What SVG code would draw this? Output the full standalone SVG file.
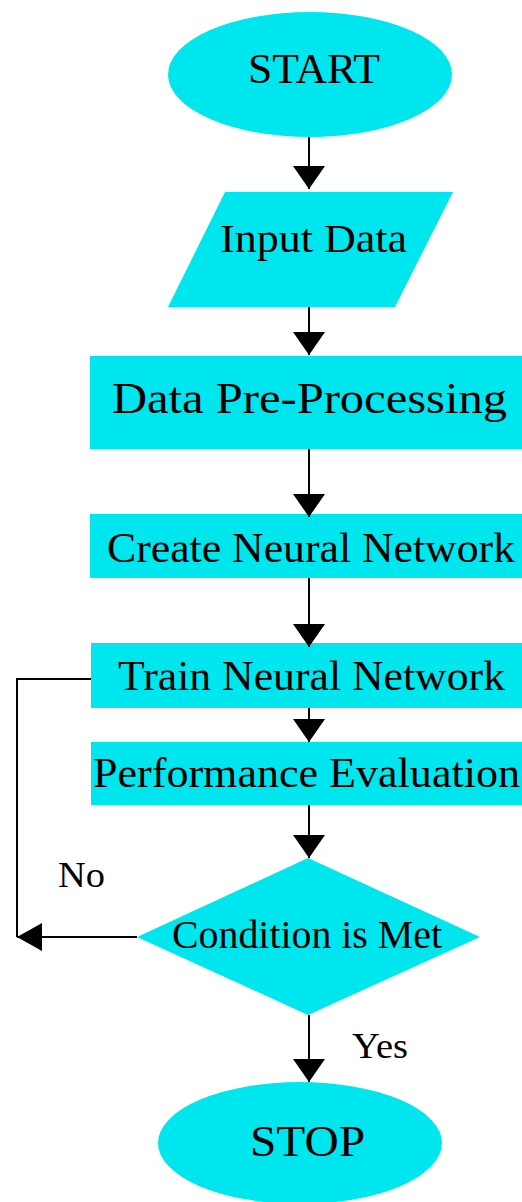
<svg xmlns="http://www.w3.org/2000/svg" width="522" height="1202" viewBox="0 0 522 1202">
<defs>
<style>
.shape{fill:#00E6EE;stroke:none}
.lbl{font-family:"Liberation Serif","Times New Roman",serif;fill:#000}
.edge{stroke:#000;stroke-width:2;fill:none}
</style>
<marker id="ah" viewBox="0 0 23 32" refX="23" refY="16" markerWidth="23" markerHeight="32" markerUnits="userSpaceOnUse" orient="auto">
<path d="M0,0 L23,16 L0,32 Z" fill="#000"/>
</marker>
<marker id="ahs" viewBox="0 0 25 28" refX="25" refY="14" markerWidth="25" markerHeight="28" markerUnits="userSpaceOnUse" orient="auto">
<path d="M0,0 L25,14 L0,28 Z" fill="#000"/>
</marker>
</defs>
<rect width="522" height="1202" fill="#fff"/>
<g id="start">
<ellipse class="shape" cx="310" cy="74.5" rx="142" ry="62.5"/>
<text class="lbl" x="248" y="83" font-size="43" textLength="132" lengthAdjust="spacingAndGlyphs">START</text>
</g>
<g id="input">
<polygon class="shape" points="225,192 453,192 395,307 168,307"/>
<text class="lbl" x="220" y="252" font-size="39" textLength="187" lengthAdjust="spacingAndGlyphs">Input Data</text>
</g>
<g id="preprocess">
<rect class="shape" x="90" y="356" width="432" height="93"/>
<text class="lbl" x="112" y="413" font-size="44" textLength="395" lengthAdjust="spacingAndGlyphs">Data Pre-Processing</text>
</g>
<g id="create">
<rect class="shape" x="90" y="514" width="432" height="64"/>
<text class="lbl" x="107" y="562" font-size="43" textLength="408" lengthAdjust="spacingAndGlyphs">Create Neural Network</text>
</g>
<g id="train">
<rect class="shape" x="91" y="643" width="431" height="65"/>
<text class="lbl" x="118" y="690" font-size="43" textLength="387" lengthAdjust="spacingAndGlyphs">Train Neural Network</text>
</g>
<g id="evaluate">
<rect class="shape" x="91" y="742" width="431" height="63"/>
<text class="lbl" x="93" y="787" font-size="43" textLength="427" lengthAdjust="spacingAndGlyphs">Performance Evaluation</text>
</g>
<g id="condition">
<polygon class="shape" points="308,858 480,937 308,1015 137,937"/>
<text class="lbl" x="172" y="948" font-size="41" textLength="270" lengthAdjust="spacingAndGlyphs">Condition is Met</text>
</g>
<g id="stop">
<ellipse class="shape" cx="300" cy="1143" rx="142" ry="61"/>
<text class="lbl" x="250" y="1156" font-size="45" textLength="115" lengthAdjust="spacingAndGlyphs">STOP</text>
</g>
<g id="connectors">
<line class="edge" x1="309" y1="137" x2="309" y2="189" marker-end="url(#ah)"/>
<line class="edge" x1="309" y1="307" x2="309" y2="355" marker-end="url(#ah)"/>
<line class="edge" x1="309" y1="449" x2="309" y2="517" marker-end="url(#ah)"/>
<line class="edge" x1="309" y1="578" x2="309" y2="647" marker-end="url(#ah)"/>
<line class="edge" x1="309" y1="708" x2="309" y2="742" marker-end="url(#ah)"/>
<line class="edge" x1="309" y1="805" x2="309" y2="858" marker-end="url(#ah)"/>
<line class="edge" x1="309" y1="1015" x2="309" y2="1082" marker-end="url(#ah)"/>
<polyline class="edge" points="91,679 17,679 17,937"/>
<line class="edge" x1="137" y1="937" x2="17" y2="937" marker-end="url(#ahs)"/>
<text class="lbl" x="58" y="887" font-size="35" textLength="47" lengthAdjust="spacingAndGlyphs">No</text>
<text class="lbl" x="352" y="1058" font-size="35" textLength="56" lengthAdjust="spacingAndGlyphs">Yes</text>
</g>
</svg>
